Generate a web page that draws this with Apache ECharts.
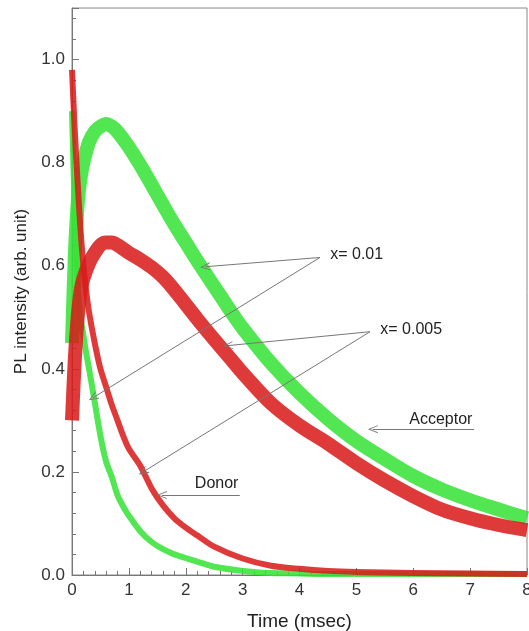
<!DOCTYPE html>
<html>
<head>
<meta charset="utf-8">
<script src="https://cdn.jsdelivr.net/npm/echarts@6/dist/echarts.min.js"></script>
<style>
  html, body { margin: 0; padding: 0; background: #fff; }
  #chart { width: 529px; height: 631px; }
</style>
</head>
<body>
<div id="chart"></div>
<script>
// 时间轴 (msec)
const accTime = [0, 0.05, 0.1, 0.15, 0.2, 0.3, 0.4, 0.5, 0.6, 0.7, 0.8, 1.0, 1.2, 1.4, 1.6, 1.8, 2.0, 2.2, 2.5, 2.8, 3.0, 3.5, 4.0, 4.5, 5.0, 5.5, 6.0, 6.5, 7.0, 7.5, 8.0];
const accGreen = [0.45, 0.62, 0.72, 0.77, 0.80, 0.84, 0.86, 0.87, 0.875, 0.87, 0.86, 0.83, 0.795, 0.757, 0.718, 0.68, 0.645, 0.61, 0.56, 0.51, 0.479, 0.411, 0.353, 0.303, 0.26, 0.225, 0.192, 0.166, 0.145, 0.127, 0.11];
const accRed = [0.30, 0.42, 0.50, 0.55, 0.575, 0.605, 0.625, 0.64, 0.645, 0.645, 0.64, 0.625, 0.612, 0.597, 0.578, 0.553, 0.525, 0.497, 0.457, 0.418, 0.392, 0.333, 0.29, 0.255, 0.217, 0.183, 0.153, 0.127, 0.11, 0.097, 0.087];

const donTime = [0, 0.05, 0.1, 0.15, 0.2, 0.25, 0.3, 0.4, 0.5, 0.6, 0.7, 0.8, 0.9, 1.0, 1.2, 1.4, 1.6, 1.8, 2.0, 2.2, 2.5, 3.0, 3.5, 4.0, 4.5, 5.0, 6.0, 7.0, 8.0];
const donGreen = [0.90, 0.70, 0.56, 0.50, 0.465, 0.43, 0.40, 0.335, 0.27, 0.22, 0.19, 0.155, 0.133, 0.115, 0.085, 0.064, 0.05, 0.04, 0.033, 0.026, 0.016, 0.008, 0.004, 0.003, 0.002, 0.002, 0.002, 0.002, 0.002];
const donRed = [0.98, 0.86, 0.76, 0.67, 0.60, 0.55, 0.51, 0.45, 0.40, 0.365, 0.33, 0.30, 0.27, 0.245, 0.212, 0.168, 0.135, 0.11, 0.092, 0.077, 0.055, 0.032, 0.018, 0.012, 0.008, 0.006, 0.004, 0.003, 0.002];

// 标注: 文字位置和箭头 (数据坐标)
const notes = [
    { text: 'x= 0.01', at: [4.54, 0.621] },
    { text: 'x= 0.005', at: [5.42, 0.476] },
    { text: 'Acceptor', at: [5.93, 0.301] },
    { text: 'Donor', at: [2.16, 0.177] }
];
const arrows = [
    [[4.36, 0.616], [2.34, 0.598]],
    [[4.36, 0.616], [0.37, 0.344]],
    [[5.24, 0.472], [2.74, 0.445]],
    [[5.24, 0.472], [1.25, 0.200]],
    [[7.07, 0.283], [5.29, 0.283]],
    [[2.95, 0.155], [1.58, 0.155]]
];

const GREEN = '#36e236';
const RED = '#d81a1a';
const FONT = 'Liberation Sans, Arial, sans-serif';

function pairs(t, v) {
    return t.map((x, i) => [x, v[i]]);
}

function curve(name, t, v, color, width) {
    return {
        name: name,
        type: 'line',
        data: pairs(t, v),
        smooth: 0.3,
        showSymbol: false,
        lineStyle: { color: color, width: width, opacity: 0.86, cap: 'butt', join: 'round' },
        silent: true
    };
}

const chart = echarts.init(document.getElementById('chart'));
chart.setOption({
    animation: false,
    backgroundColor: '#fff',
    grid: {
        left: 72, right: 2, top: 8, bottom: 56,
        outerBoundsMode: 'none',
        show: true, borderColor: '#888', borderWidth: 1
    },
    xAxis: {
        type: 'value',
        min: 0, max: 8, interval: 1,
        name: 'Time (msec)',
        nameLocation: 'middle',
        nameGap: 37,
        nameTextStyle: { fontFamily: FONT, fontSize: 19, color: '#222' },
        axisLine: { lineStyle: { color: '#777' } },
        axisTick: { inside: true, length: 7, lineStyle: { color: '#777' } },
        minorTick: { show: true, splitNumber: 5, length: 4, lineStyle: { color: '#777' } },
        splitLine: { show: false },
        axisLabel: { fontFamily: FONT, fontSize: 17, color: '#333', margin: 7 }
    },
    yAxis: {
        type: 'value',
        min: 0, max: 1.1, interval: 0.2,
        name: 'PL intensity (arb. unit)',
        nameLocation: 'middle',
        nameGap: 42,
        nameTextStyle: { fontFamily: FONT, fontSize: 17, color: '#222' },
        axisLine: { lineStyle: { color: '#777' } },
        axisTick: { inside: true, length: 7, lineStyle: { color: '#777' } },
        minorTick: { show: true, splitNumber: 5, length: 4, lineStyle: { color: '#777' } },
        splitLine: { show: false },
        axisLabel: {
            fontFamily: FONT, fontSize: 17, color: '#333', margin: 7,
            showMaxLabel: false,
            formatter: v => v.toFixed(1)
        }
    },
    series: [
        curve('Donor x=0.01', donTime, donGreen, GREEN, 6),
        curve('Acceptor x=0.01', accTime, accGreen, GREEN, 14),
        curve('Donor x=0.005', donTime, donRed, RED, 6),
        curve('Acceptor x=0.005', accTime, accRed, RED, 14),
        {
            name: 'notes',
            type: 'line',
            data: [],
            z: 5,
            silent: true,
            markLine: {
                silent: true,
                symbol: ['none', 'path://M5,0 L10,10 L8.8,10 L5,2.4 L1.2,10 L0,10 Z'],
                symbolSize: [8, 10],
                label: { show: false },
                lineStyle: { color: '#777', width: 1, type: 'solid' },
                data: arrows.map(a => [{ coord: a[0] }, { coord: a[1] }])
            },
            markPoint: {
                silent: true,
                symbol: 'circle',
                symbolSize: 0,
                label: {
                    show: true,
                    position: 'right',
                    distance: 0,
                    fontFamily: FONT,
                    fontSize: 16,
                    color: '#222',
                    formatter: p => p.name
                },
                data: notes.map(n => ({ name: n.text, coord: n.at }))
            }
        }
    ]
});
</script>
</body>
</html>
